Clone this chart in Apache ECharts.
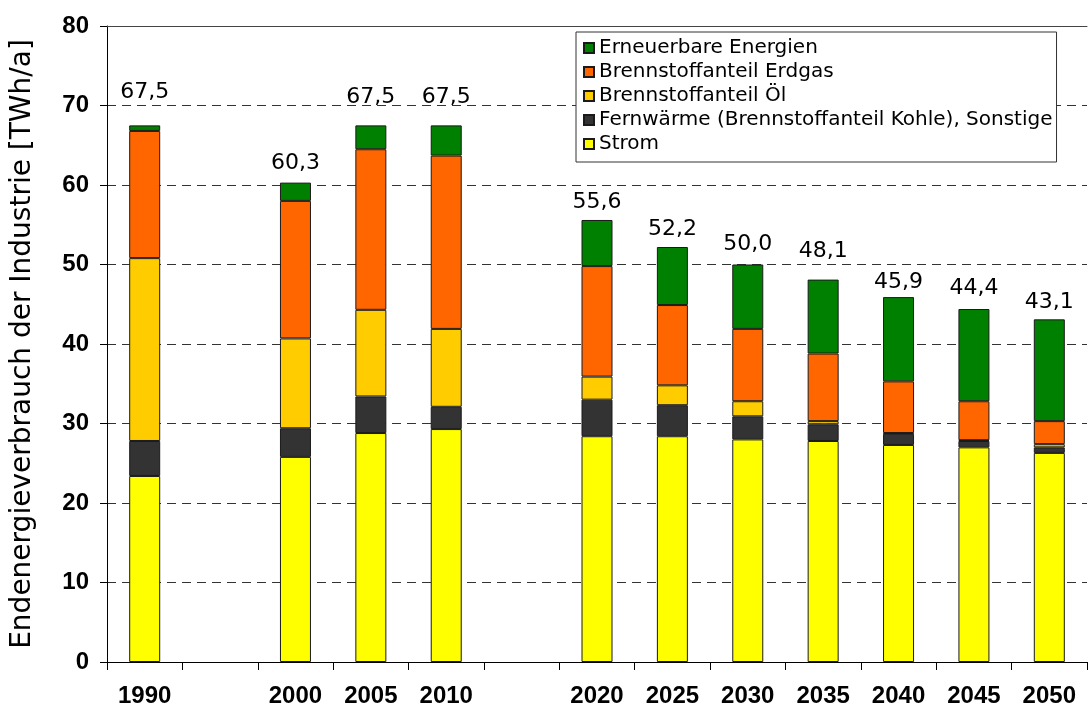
<!DOCTYPE html>
<html>
<head>
<meta charset="utf-8">
<script src="https://cdn.jsdelivr.net/npm/echarts@6/dist/echarts.min.js"></script>
<style>
  html, body { margin: 0; padding: 0; background: #fff; }
  #chart { width: 1091px; height: 711px; }
</style>
</head>
<body>
<div id="chart"></div>
<script>
  // Kategorien (Lücken für 1995 und 2015 bleiben leer)
  const years = ['1990', '', '2000', '2005', '2010', ' ', '2020', '2025', '2030', '2035', '2040', '2045', '2050'];

  // Werte in TWh/a, von unten nach oben gestapelt
  const strom      = [23.4, null, 25.8, 28.8, 29.3, null, 28.4, 28.4, 28.0, 27.8, 27.3, 27.0, 26.3];
  const fernwaerme = [4.4,  null, 3.6,  4.6,  2.8,  null, 4.6,  3.9,  2.9,  2.1,  1.4,  0.8,  0.7];
  const oel        = [23.0, null, 11.3, 10.9, 9.8,  null, 2.9,  2.5,  1.9,  0.4,  0.1,  0.1,  0.4];
  const erdgas     = [16.0, null, 17.3, 20.2, 21.8, null, 13.9, 10.1, 9.1,  8.5,  6.5,  4.9,  2.9];
  const erneuerbar = [0.7,  null, 2.3,  3.0,  3.8,  null, 5.8,  7.3,  8.1,  9.3,  10.6, 11.6, 12.8];

  // Summen über den Säulen
  const totals = [67.5, null, 60.3, 67.5, 67.5, null, 55.6, 52.2, 50.0, 48.1, 45.9, 44.4, 43.1];

  const yTicks = { min: 0, max: 80, interval: 10 };

  // zusätzlicher Abstand der Summen-Beschriftung (px), wie im Original von Hand gesetzt
  const labelLift = [15, 0, 1, 10, 10, 0, 0, 0, 2, 10, -3, 3, -1];

  const names = [
    'Strom',
    'Fernwärme (Brennstoffanteil Kohle), Sonstige',
    'Brennstoffanteil Öl',
    'Brennstoffanteil Erdgas',
    'Erneuerbare Energien'
  ];
  const colors = ['#ffff00', '#333333', '#ffcc00', '#ff6600', '#008000'];
  const values = [strom, fernwaerme, oel, erdgas, erneuerbar];

  const chart = echarts.init(document.getElementById('chart'));

  const series = values.map(function (arr, i) {
    const last = i === values.length - 1;
    const s = {
      name: names[i],
      type: 'bar',
      stack: 'summe',
      barWidth: 31,
      data: last ? arr.map(function (v, k) {
        return { value: v, label: { distance: 7 + labelLift[k] } };
      }) : arr,
      itemStyle: {
        color: colors[i],
        borderColor: '#1a1a1a',
        borderWidth: 1
      }
    };
    if (last) {
      s.label = {
        show: true,
        position: 'top',
        distance: 7,
        fontFamily: 'DejaVu Sans',
        fontSize: 22,
        color: '#000',
        formatter: function (p) {
          const t = totals[p.dataIndex];
          return t == null ? '' : t.toFixed(1).replace('.', ',');
        }
      };
    }
    return s;
  });

  const option = {
    animation: false,
    backgroundColor: '#fff',
    grid: {
      left: 107,
      right: 4,
      top: 26,
      bottom: 49
    },
    legend: {
      orient: 'vertical',
      left: 576,
      top: 32,
      icon: 'rect',
      itemWidth: 10,
      itemHeight: 10,
      itemGap: 4,
      itemTextGap: 11,
      padding: [6, 4, 8, 7],
      borderColor: '#333',
      borderWidth: 1,
      backgroundColor: '#fff',
      textStyle: {
        fontFamily: 'DejaVu Sans',
        fontSize: 20,
        color: '#000'
      },
      data: names.slice().reverse()
    },
    xAxis: [{
      type: 'category',
      data: years,
      axisLine: { lineStyle: { color: '#000', width: 1 } },
      axisTick: { show: true, length: 8, interval: 0, lineStyle: { color: '#000' } },
      axisLabel: {
        interval: 0,
        margin: 22,
        fontFamily: 'Liberation Sans',
        fontWeight: 'bold',
        fontSize: 24,
        color: '#000'
      }
    }, {
      type: 'category',
      position: 'top',
      data: years,
      axisLine: { lineStyle: { color: '#444', width: 1 } },
      axisTick: { show: false },
      axisLabel: { show: false }
    }],
    yAxis: {
      type: 'value',
      min: yTicks.min,
      max: yTicks.max,
      interval: yTicks.interval,
      name: 'Endenergieverbrauch der Industrie [TWh/a]',
      nameLocation: 'middle',
      nameGap: 70,
      nameTextStyle: {
        fontFamily: 'DejaVu Sans',
        fontSize: 28,
        color: '#000'
      },
      axisLine: { show: true, lineStyle: { color: '#000', width: 1 } },
      axisTick: { show: true, length: 7, lineStyle: { color: '#000' } },
      axisLabel: {
        margin: 18,
        fontFamily: 'Liberation Sans',
        fontWeight: 'bold',
        fontSize: 24,
        color: '#000'
      },
      splitLine: {
        show: true,
        lineStyle: { color: '#333', type: [9, 6], width: 1 }
      }
    },
    series: series
  };

  chart.setOption(option, true);
  window.onresize = function () {
    chart.resize();
  };
</script>
</body>
</html>
